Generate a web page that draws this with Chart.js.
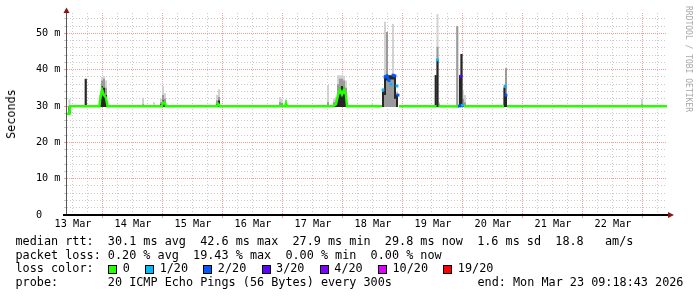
<!DOCTYPE html>
<html><head><meta charset="utf-8">
<script src="https://cdn.jsdelivr.net/npm/chart.js@4.4.1/dist/chart.umd.min.js"></script>
<style>
html,body{margin:0;padding:0;background:#fff;}
#wrap{position:relative;width:697px;height:297px;overflow:hidden;background:#fff;font-family:"DejaVu Sans Mono",monospace;}
#c{position:absolute;left:0;top:0;}
.t{position:absolute;white-space:pre;font-size:11.8px;line-height:14px;color:#000;}
.sq{position:absolute;width:9px;height:9px;border:1px solid #000;box-sizing:border-box;}
#ylab{position:absolute;left:10.5px;top:113.5px;font-size:11.8px;line-height:14px;white-space:pre;transform:translate(-50%,-50%) rotate(-90deg);}
#wm{position:absolute;left:688px;top:58.5px;font-size:8px;line-height:10px;color:#a8a8a8;white-space:pre;transform:translate(-50%,-50%) rotate(90deg);}
</style></head><body>
<div id="wrap">
<canvas id="c" width="697" height="297"></canvas>
<div id="ylab">Seconds</div>
<div id="wm">RRDTOOL / TOBI OETIKER</div>
<div class="t" style="left:15.5px;top:234px">median rtt:  30.1 ms avg  42.6 ms max  27.9 ms min  29.8 ms now  1.6 ms sd  18.8   am/s</div>
<div class="t" style="left:15.5px;top:247.6px">packet loss: 0.20 % avg  19.43 % max  0.00 % min  0.00 % now</div>
<div class="t" id="lossline" style="left:15.5px;top:261.3px">loss color:</div>
<div class="t" style="left:15.5px;top:275px">probe:       20 ICMP Echo Pings (56 Bytes) every 300s</div>
<div class="t" style="left:477.5px;top:275px">end: Mon Mar 23 09:18:43 2026</div>
</div>
<script>
// ---- data (hours since graph start, values in ms) ----
const dayLabels = ['13 Mar','14 Mar','15 Mar','16 Mar','17 Mar','18 Mar','19 Mar','20 Mar','21 Mar','22 Mar'];
const yTickValues = [0,10,20,30,40,50];
const lossLabels = ['0','1/20','2/20','3/20','4/20','10/20','19/20'];
const lossColors = ['#26ff00','#00b8ff','#0059ff','#5e00ff','#7e00ff','#dd00ff','#ff0000'];

const smokeHours   = [1.0, 7.5, 13.2,14.0,14.8,15.6, 30.4, 34.8, 37.6,38.4,39.2, 60.0,60.8, 85.2,86.0,87.6, 104.4, 106.8,107.6,108.4,109.2,110.0,110.8,111.6, 122.0, 126.4,127.2,128.0,128.8,129.6,130.4,131.2,132.0, 147.5,148.2,148.8, 156.1, 157.2,157.8,158.4,159.2, 175.0,175.6, 230.0];
const smokeMin     = [27.9,29.7, 29.7,29.7,29.7,29.7, 29.7, 29.7, 29.7,29.7,29.7, 29.7,29.7, 29.7,29.7,29.7, 29.7, 29.7,29.7,29.7,29.7,29.7,29.7,29.7, 29.7, 29.7,29.7,29.7,29.7,29.7,29.7,29.7,29.7, 29.7,29.7,29.7, 29.7, 29.7,29.7,29.7,29.7, 29.7,29.7, 29.7];
const smokeLight   = [32.0,37.7, 33.0,38.0,38.2,37.0, 32.3, 31.0, 32.0,35.5,33.5, 33.0,34.6, 32.5,32.0,31.7, 35.8, 32.0,32.5,38.5,38.5,38.5,38.3,37.0, 30.6, 35.0,53.2,50.4,38.5,38.5,52.6,38.5,34.0, 38.5,55.3,31.0, 52.0, 38.5,44.3,34.4,33.0, 35.1,40.4, 32.0];
const smokeMid     = [30.0,37.5, 32.0,37.0,37.5,35.0, 30.5, 30.2, 31.0,33.0,32.0, 31.5,32.5, 31.0,30.8,31.0, 31.0, 31.0,31.5,36.0,37.5,37.5,37.0,35.0, 30.3, 34.4,38.5,50.4,38.0,38.0,38.5,38.5,33.5, 38.5,46.3,30.5, 52.0, 38.5,44.3,32.0,31.0, 35.1,40.4, 30.5];
const smokeDarkLow = [27.9,29.7, 29.7,29.7,29.7,29.7, 29.7, 29.7, 29.7,29.7,29.7, 29.7,29.7, 29.7,29.7,29.7, 29.7, 29.7,29.7,29.7,29.7,29.7,29.7,29.7, 29.7, 29.7,33.0,37.0,37.3,37.3,37.3,32.0,29.7, 29.7,29.7,29.7, 29.7, 29.7,29.7,29.7,29.7, 29.7,29.7, 29.7];
const smokeDark    = [29.9,37.4, 31.0,35.5,35.0,33.0, 30.0, 30.0, 30.5,31.5,31.0, 30.5,31.5, 30.0,30.0,30.5, 30.0, 30.2,30.5,33.0,35.0,35.5,35.0,33.0, 30.0, 34.0,38.3,38.5,38.5,38.5,38.5,38.0,33.0, 38.5,42.7,30.0, 30.0, 38.5,44.3,30.0,30.0, 35.1,33.0, 30.0];

const medHours  = [0,1.0,1.2, 13.0,13.2,14.0,14.8,15.6,16.2, 38.0,38.4,39.2,39.6, 60.0,60.4,60.8,61.2, 87.2,87.6,88.0, 106.4,107.6,108.4,109.2,110.0,110.8,111.6,112.0, 126.0,126.4,127.2,128.0,128.8,129.6,130.4,131.2,132.0,132.4,132.8, 147.8,148.2,148.6, 156.8,157.0,157.6,158.2,158.6, 174.8,175.2,175.6,176.0, 240];
const medValues = [27.9,27.9,29.9, 29.9,31.5,34.5,33.0,32.3,29.9, 29.9,31.0,30.8,29.9, 29.9,30.6,30.3,29.9, 29.9,30.8,29.9, 29.9,30.5,33.0,34.5,33.2,34.5,33.0,29.9, 29.9,34.4,38.0,38.3,37.0,36.0,38.5,38.3,35.5,33.0,29.9, 29.9,42.7,29.9, 29.9,30.0,38.2,30.2,29.9, 29.9,35.5,33.0,29.9, 29.9];
const medLoss   = [0,0,0, 0,0,0,0,0,0, 0,0,0,0, 0,0,0,0, 0,0,0, 0,0,0,0,0,0,0,0, 0,1,2,2,2,1,2,2,1,2,0, 0,1,0, 0,2,3,1,0, 0,1,2,0, 0];

// ---- legend line 3 ----
(function(){
  const wrap = document.getElementById('wrap');
  const CW = 7.1, X0 = 15.5;
  let idx = 13;
  lossLabels.forEach((lab, i) => {
    const sq = document.createElement('div');
    sq.className = 'sq';
    sq.style.left = (X0 + idx * CW + 0.5) + 'px';
    sq.style.top = '265px';
    sq.style.background = lossColors[i];
    wrap.appendChild(sq);
    const t = document.createElement('div');
    t.className = 't';
    t.style.left = (X0 + (idx + 2.1) * CW) + 'px';
    t.style.top = '261.3px';
    t.textContent = lab;
    wrap.appendChild(t);
    idx = idx + 2.1 + lab.length + 2.1;
  });
})();

// ---- chart ----
const MINOR_GRID = 'rgba(150,150,150,0.5)';
const MAJOR_GRID = 'rgba(225,90,90,0.6)';
const xGridHours = [];
for (let h = 2; h < 240; h += 6) xGridHours.push(h);
const yGridValues = [];
for (let v = 0; v <= 54; v += 2) yGridValues.push(v);
const isMajorX = v => ((v - 14) % 24 + 24) % 24 === 0;
const isLabelX = v => ((v - 2) % 24 + 24) % 24 === 0;
const isMajorY = v => yTickValues.includes(v);

const bars = (lo, hi) => smokeHours.map((h, i) => ({x: h, y: [lo[i], hi[i]]}));

const axesPlugin = {
  id: 'rrdAxes',
  afterDraw(chart) {
    const {ctx, chartArea: a} = chart;
    ctx.save();
    ctx.strokeStyle = '#555';
    ctx.lineWidth = 1;
    ctx.beginPath();
    ctx.moveTo(a.left - 0.5, a.bottom + 1);
    ctx.lineTo(a.left - 0.5, a.top);
    ctx.stroke();
    ctx.strokeStyle = '#000';
    ctx.lineWidth = 2;
    ctx.beginPath();
    ctx.moveTo(a.left - 4, a.bottom);
    ctx.lineTo(a.right + 1, a.bottom);
    ctx.stroke();
    ctx.fillStyle = '#8b1414';
    ctx.beginPath();
    ctx.moveTo(a.left - 0.5, a.top - 5.5);
    ctx.lineTo(a.left - 3.5, a.top);
    ctx.lineTo(a.left + 2.5, a.top);
    ctx.closePath();
    ctx.fill();
    ctx.beginPath();
    ctx.moveTo(a.right + 7, a.bottom);
    ctx.lineTo(a.right + 1, a.bottom - 3);
    ctx.lineTo(a.right + 1, a.bottom + 3);
    ctx.closePath();
    ctx.fill();
    ctx.restore();
  }
};

new Chart(document.getElementById('c'), {
  type: 'bar',
  data: {
    datasets: [
      {type: 'bar', data: bars(smokeMin, smokeLight), backgroundColor: '#d2d2d2', barThickness: 2, grouped: false, inflateAmount: 0, borderWidth: 0, order: 4},
      {type: 'bar', data: bars(smokeMin, smokeMid), backgroundColor: '#9a9a9a', barThickness: 2, grouped: false, inflateAmount: 0, borderWidth: 0, order: 3},
      {type: 'bar', data: bars(smokeDarkLow, smokeDark), backgroundColor: '#262626', barThickness: 2, grouped: false, inflateAmount: 0, borderWidth: 0, order: 2},
      {type: 'line', data: medHours.map((h, i) => ({x: h, y: medValues[i]})),
       borderColor: lossColors[0], borderWidth: 2.5, tension: 0, fill: false, order: 1,
       pointStyle: 'rect', pointBorderWidth: 0,
       pointRadius: c => medLoss[c.dataIndex] > 0 ? 2 : 0,
       pointBackgroundColor: c => lossColors[medLoss[c.dataIndex]],
       segment: {borderColor: c => medLoss[c.p0DataIndex] === medLoss[c.p1DataIndex] ? lossColors[medLoss[c.p1DataIndex]] : 'rgba(0,0,0,0)'}}
    ]
  },
  options: {
    responsive: false,
    animation: false,
    devicePixelRatio: 1,
    layout: {padding: {left: 0, right: 30, top: 13, bottom: 0}},
    plugins: {legend: {display: false}, tooltip: {enabled: false}},
    events: [],
    scales: {
      x: {
        type: 'linear', min: 0, max: 240, offset: false,
        afterBuildTicks: s => { s.ticks = xGridHours.map(v => ({value: v})); },
        afterFit: s => { s.height = 82; },
        ticks: {
          autoSkip: false, maxRotation: 0, minRotation: 0, padding: 0, labelOffset: 1,
          color: '#000', font: {family: 'DejaVu Sans Mono', size: 10.2},
          callback: v => isLabelX(v) ? dayLabels[(v - 2) / 24] : ''
        },
        grid: {
          offset: false, lineWidth: 1, tickLength: 3, tickBorderDash: [],
          color: c => (c.tick && isMajorX(c.tick.value)) ? MAJOR_GRID : MINOR_GRID,
          tickColor: c => (c.tick && isMajorX(c.tick.value)) ? MAJOR_GRID : 'rgba(0,0,0,0)'
        },
        border: {display: false, dash: c => (c.tick && isMajorX(c.tick.value)) ? [1, 1] : [1, 2]}
      },
      y: {
        type: 'linear', min: 0, max: 55.6,
        afterBuildTicks: s => { s.ticks = yGridValues.map(v => ({value: v})); },
        afterFit: s => { s.width = 67; },
        ticks: {
          autoSkip: false, padding: 3.5, color: '#000', font: {family: 'DejaVu Sans Mono', size: 10.2},
          callback: v => isMajorY(v) ? (v === 0 ? '0   ' : v + ' m') : ''
        },
        grid: {
          lineWidth: 1, tickLength: 3, tickBorderDash: [],
          color: c => (c.tick && isMajorY(c.tick.value)) ? MAJOR_GRID : MINOR_GRID,
          tickColor: c => (c.tick && isMajorY(c.tick.value)) ? MAJOR_GRID : MINOR_GRID
        },
        border: {display: false, dash: c => (c.tick && isMajorY(c.tick.value)) ? [1, 1] : [1, 2]}
      }
    }
  },
  plugins: [axesPlugin]
});
</script>
</body></html>
